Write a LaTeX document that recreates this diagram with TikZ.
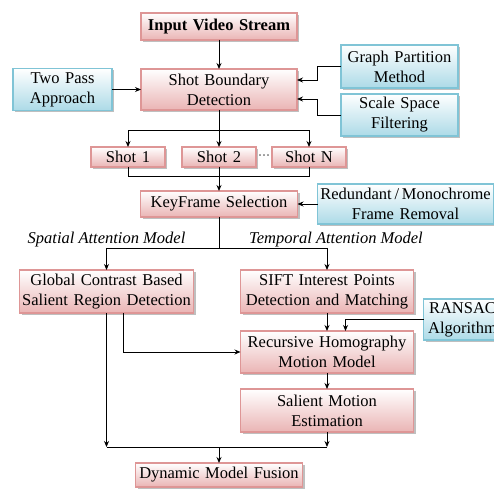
\documentclass[tikz,border=0pt]{standalone}
\usepackage{fontspec}
\setmainfont{Liberation Serif}
\usetikzlibrary{arrows.meta,positioning,shadows,calc}
\definecolor{procline}{RGB}{222,150,150}
\definecolor{procfill}{RGB}{234,180,180}
\definecolor{auxline}{RGB}{128,196,214}
\definecolor{auxfill}{RGB}{172,218,231}

\begin{document}
\begin{tikzpicture}[
  x=1pt, y=1pt,
  >={Stealth[length=6pt,width=5pt]},
  box/.style={
    line width=1.1pt,
    align=center,
    inner sep=0pt,
    outer sep=0pt,
    font=\fontsize{16.5}{20}\selectfont,
    drop shadow={shadow xshift=2pt, shadow yshift=-2pt, fill=black, opacity=0.25}
  },
  proc/.style={
    box,
    draw=procline,
    top color=white,
    bottom color=procfill
  },
  aux/.style={
    box,
    draw=auxline,
    top color=white,
    bottom color=auxfill
  },
  note/.style={
    font=\fontsize{16.5}{20}\selectfont\itshape,
    inner sep=1pt,
    anchor=south
  },
  arr/.style={->, line width=0.9pt},
  line/.style={line width=0.9pt}
]
\useasboundingbox (0,0) rectangle (494,488);

\node[proc, text width=156pt, minimum height=27pt, font=\fontsize{16.5}{20}\selectfont\bfseries]
  (input) at (219,461.5) {Input Video Stream};
\node[proc, text width=156pt, minimum height=41pt, below=29pt of input] (sbd)
  {Shot Boundary\\Detection};
\node[aux, text width=99pt, minimum height=42pt, left=29pt of sbd] (twopass)
  {Two Pass\\Approach};
\node[aux, text width=117pt, minimum height=43pt, right=44pt of sbd, yshift=23pt] (graph)
  {Graph Partition\\Method};
\node[aux, text width=117pt, minimum height=42pt, below=6pt of graph] (scale)
  {Scale Space\\Filtering};

\node[proc, text width=74pt, minimum height=20pt, below=37pt of sbd] (shot2) {Shot 2};
\node[proc, text width=74pt, minimum height=20pt, left=17pt of shot2] (shot1) {Shot 1};
\node[proc, text width=74pt, minimum height=20pt, right=16pt of shot2] (shotN) {Shot N};
\node[inner sep=0pt, font=\fontsize{12}{12}\selectfont] (more)
  at ($(shot2.east)!.5!(shotN.west)$) {···};

\node[proc, text width=157pt, minimum height=26pt, below=24pt of shot2] (keyframe)
  {KeyFrame Selection};
\node[aux, text width=176pt, minimum height=40pt, right=20pt of keyframe] (redundant)
  {Redundant\,/\,Monochrome\\Frame Removal};

\node[proc, text width=174pt, minimum height=43pt, below=53pt of keyframe, xshift=-112.5pt] (global)
  {Global Contrast Based\\Salient Region Detection};
\node[proc, text width=173pt, minimum height=43pt, below=53pt of keyframe, xshift=108pt] (sift)
  {SIFT Interest Points\\Detection and Matching};
\node[aux, text width=78pt, minimum height=41pt, right=10pt of sift, yshift=-28pt] (ransac)
  {RANSAC\\Algorithm};
\node[proc, text width=173pt, minimum height=42pt, below=18pt of sift] (recursive)
  {Recursive Homography\\Motion Model};
\node[proc, text width=173pt, minimum height=43pt, below=16pt of recursive] (salient)
  {Salient Motion\\Estimation};
\node[proc, text width=167pt, minimum height=24pt, below=31pt of salient, xshift=-108pt] (dynamic)
  {Dynamic Model Fusion};

\draw[arr] (input) -- (sbd);
\draw[arr] (twopass.east) -- (twopass.east -| sbd.west);
\draw[arr] (graph.west) -- ++(-24pt,0) |- ([yshift=9.5pt]sbd.east);
\draw[arr] (scale.west) -- ++(-24pt,0) |- ([yshift=-9.5pt]sbd.east);

\draw[line] (sbd.south) -- ++(0,-20pt) coordinate (split);
\draw[arr] (split) -| (shot1.north);
\draw[arr] (split) -- (shot2.north);
\draw[arr] (split) -| (shotN.north);

\draw[line] (shot1.south) -- ++(0,-9pt) coordinate (merge) -| (shotN.south);
\draw[arr] (shot2.south) -- (keyframe.north);
\draw[arr] (redundant.west) -- (redundant.west -| keyframe.east);

\draw[line] (keyframe.south) -- ++(0,-31pt) coordinate (fork);
\draw[arr] (fork) -| (global.north);
\draw[arr] (fork) -| (sift.north);
\node[note] (spatial) at (fork -| global.north) {Spatial Attention Model};
\node[note, xshift=9pt] (temporal) at (fork -| sift.north) {Temporal Attention Model};

\draw[arr] (sift.south) -- (recursive.north);
\draw[arr] (ransac.west) -| ([xshift=18.5pt]recursive.north);
\draw[arr] ([xshift=17pt]global.south) |- (recursive.west);
\draw[arr] (recursive.south) -- (salient.north);

\coordinate (join) at ([yshift=-15pt]salient.south);
\draw[arr] (salient.south) -- (join);
\draw[arr] (global.south) -- (global.south |- join);
\draw[line] (global.south |- join) -- (join);
\draw[arr] (join -| dynamic.north) -- (dynamic.north);
\end{tikzpicture}
\end{document}
